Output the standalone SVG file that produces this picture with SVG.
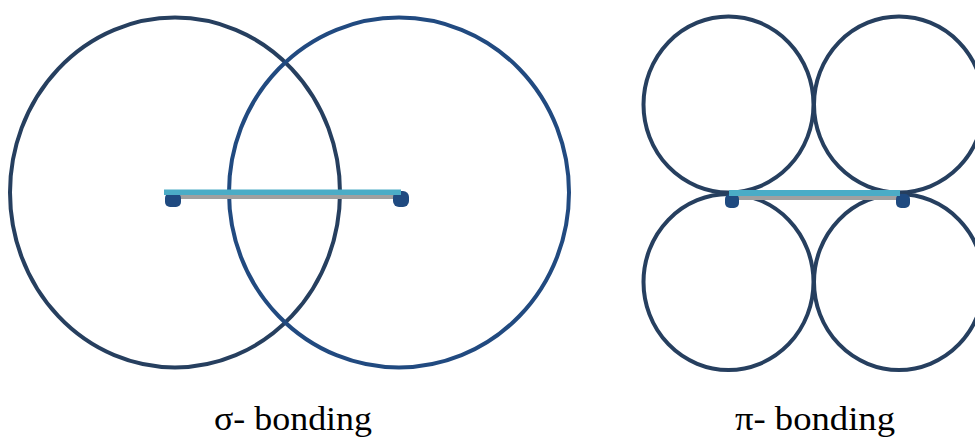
<svg xmlns="http://www.w3.org/2000/svg" width="975" height="439" viewBox="0 0 975 439">
<style>
.orb{fill:none;stroke-width:4}
.dk{stroke:#263f5f}
.bl{stroke:#214a80}
.bar{fill:#4bacc6}
.sh{fill:#a0a0a0}
.dot{fill:#1f4a80}
</style>
<rect width="975" height="439" fill="#fff"/>
<g id="sigma">
  <ellipse id="sigma-left" class="orb dk" cx="175" cy="192.5" rx="165" ry="175"/>
  <ellipse id="sigma-right" class="orb bl" cx="399" cy="192.5" rx="170" ry="175"/>
</g>
<g id="pi">
  <ellipse id="pi-tl" class="orb dk" cx="728.5" cy="104.5" rx="85" ry="88"/>
  <ellipse id="pi-tr" class="orb dk" cx="899" cy="104.5" rx="85" ry="88"/>
  <ellipse id="pi-bl" class="orb dk" cx="728.5" cy="282" rx="85" ry="88"/>
  <ellipse id="pi-br" class="orb dk" cx="899" cy="282" rx="85" ry="88"/>
</g>
<g id="connectors">
  <rect class="sh" x="166" y="194" width="232" height="5"/>
  <rect class="dot" x="165" y="193" width="16" height="14" rx="5"/>
  <rect class="dot" x="393" y="191" width="16" height="16" rx="6"/>
  <rect class="bar" x="164" y="189.5" width="237" height="5.5"/>
  <rect class="sh" x="730" y="195" width="168" height="5"/>
  <rect class="dot" x="725" y="194" width="14" height="14" rx="5"/>
  <rect class="dot" x="896" y="194" width="14" height="14" rx="5"/>
  <rect class="bar" x="729" y="190" width="171" height="6"/>
</g>
<g id="labels" font-family="Liberation Serif, Times New Roman, serif" font-size="33" fill="#000">
  <text x="214" y="430" textLength="158" lengthAdjust="spacingAndGlyphs">σ- bonding</text>
  <text x="735" y="430" textLength="160" lengthAdjust="spacingAndGlyphs">π- bonding</text>
</g>
</svg>
